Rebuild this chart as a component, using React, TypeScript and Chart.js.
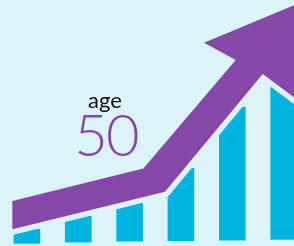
import { useEffect, useRef } from 'react';
import { Chart, registerables } from 'chart.js';

Chart.register(...registerables);

// Bars (position index, bottom value, top value)
const barPositions = [0, 1, 2, 3, 4, 5];
const barBottoms = [-0.93, -0.41, 0, 0.12, 0.41, 0.69];
const barTops = [4.88, 10.16, 15.57, 29.55, 54.35, 63.0];

// Arrow outline in data units (x along bar positions, y in value units)
const arrowX = [-0.284, 2.267, 4.066, 3.449, 5.669, 5.318, 4.592, 2.689, -0.284];
const arrowY = [16.26, 29.55, 73.58, 80.61, 100.0, 56.67, 67.89, 20.04, 4.76];

const labelTop = 'age';
const labelBig = '50';

const BG = '#dcf3fa';
const BAR = '#00b4e1';
const PURPLE = '#8548a8';

export default function App() {
  const ref = useRef<HTMLCanvasElement>(null);

  useEffect(() => {
    document.body.style.margin = '0';
    const arrowPlugin = {
      id: 'arrowShape',
      afterDatasetsDraw(chart: any) {
        const { ctx, scales } = chart;
        const xs = scales.x;
        const ys = scales.y;
        ctx.save();
        ctx.beginPath();
        arrowX.forEach((v, i) => {
          const px = xs.getPixelForValue(v);
          const py = ys.getPixelForValue(arrowY[i]);
          if (i === 0) ctx.moveTo(px, py);
          else ctx.lineTo(px, py);
        });
        ctx.closePath();
        ctx.lineJoin = 'round';
        ctx.lineWidth = 11;
        ctx.strokeStyle = BG;
        ctx.stroke();
        ctx.fillStyle = PURPLE;
        ctx.fill();
        ctx.restore();
      },
    };
    const chart = new Chart(ref.current as HTMLCanvasElement, {
      type: 'bar',
      data: {
        datasets: [
          {
            data: barPositions.map((p, i) => ({ x: p, y: [barBottoms[i], barTops[i]] })) as any,
            backgroundColor: BAR,
            borderWidth: 0,
            barThickness: 26,
          },
        ],
      },
      options: {
        responsive: false,
        animation: false,
        layout: { padding: 0 },
        plugins: { legend: { display: false }, tooltip: { enabled: false } },
        scales: {
          x: { type: 'linear', min: -0.524, max: 5.201, offset: false, display: false },
          y: { min: -2, max: 98, display: false },
        },
      },
      plugins: [arrowPlugin],
    });
    return () => chart.destroy();
  }, []);

  return (
    <div style={{ position: 'relative', width: 294, height: 246, background: BG, overflow: 'hidden' }}>
      <canvas ref={ref} width={294} height={246} style={{ display: 'block' }} />
      <div
        style={{
          position: 'absolute', left: 0, top: 89, width: 210, textAlign: 'center',
          fontFamily: 'Lato, sans-serif', fontWeight: 400, fontSize: 22, lineHeight: '22px', color: '#111',
        }}
      >
        {labelTop}
      </div>
      <div
        style={{
          position: 'absolute', left: 0, top: 105, width: 212, textAlign: 'center',
          fontFamily: 'Lato, sans-serif', fontWeight: 300, fontSize: 58, lineHeight: '58px', color: PURPLE,
          letterSpacing: -2,
        }}
      >
        {labelBig}
      </div>
    </div>
  );
}
